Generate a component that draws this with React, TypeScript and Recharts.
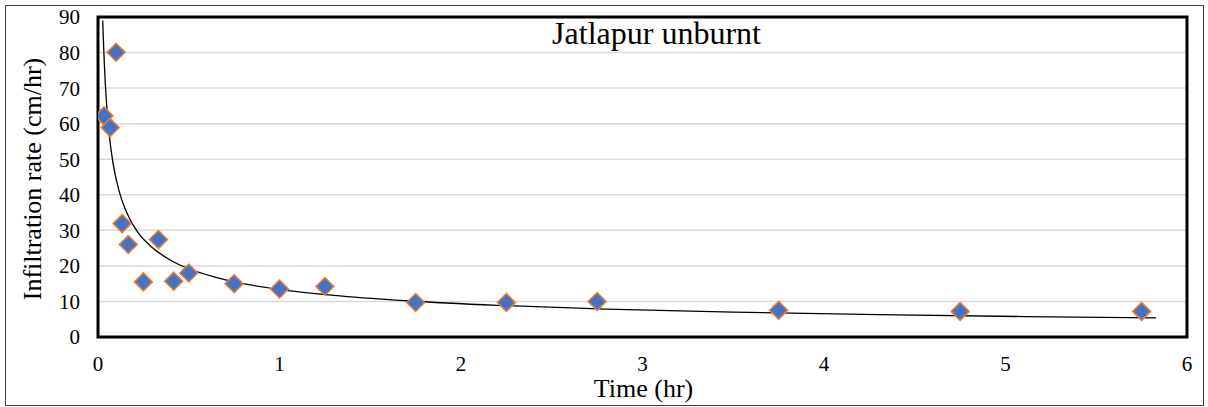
import React from 'react';
import { ComposedChart, XAxis, YAxis, CartesianGrid, Scatter, Line, ReferenceArea, Label } from 'recharts';

const timeHr = [0.033, 0.067, 0.1, 0.133, 0.167, 0.25, 0.333, 0.417, 0.5, 0.75, 1.0, 1.25, 1.75, 2.25, 2.75, 3.75, 4.75, 5.75];
const infiltrationRate = [62.2, 58.9, 80.1, 31.9, 26.0, 15.5, 27.4, 15.7, 18.0, 15.0, 13.5, 14.2, 9.7, 9.7, 10.0, 7.5, 7.2, 7.2];

const trendTime = [0.026, 0.03, 0.04, 0.05, 0.065, 0.08, 0.1, 0.13, 0.17, 0.22, 0.3, 0.4, 0.5, 0.65, 0.8, 1.0, 1.3, 1.7, 2.2, 2.8, 3.5, 4.3, 5.1, 5.83];
const trendRate = [89, 83, 71.5, 63.6, 55.5, 49.8, 44.4, 38.7, 33.7, 29.4, 25.1, 21.6, 19.2, 16.8, 15.0, 13.4, 11.7, 10.2, 8.9, 7.85, 7.0, 6.3, 5.75, 5.36];

const xTicks = [0, 1, 2, 3, 4, 5, 6];
const yTicks = [0, 10, 20, 30, 40, 50, 60, 70, 80, 90];

const chartTitle = 'Jatlapur unburnt';
const xTitle = 'Time (hr)';
const yTitle = 'Infiltration rate (cm/hr)';

const observed = timeHr.map((x, i) => ({ x, y: infiltrationRate[i] }));
const trend = trendTime.map((x, i) => ({ x, y: trendRate[i] }));

const FONT = "'Liberation Serif', Tinos, 'Times New Roman', Times, 'DejaVu Serif', serif";

const Diamond = (props: any) => {
  const { cx, cy } = props;
  if (cx == null || cy == null) return null;
  const r = 9;
  return (
    <polygon
      points={`${cx},${cy - r} ${cx + r},${cy} ${cx},${cy + r} ${cx - r},${cy}`}
      fill="#4472C4"
      stroke="#ED7D31"
      strokeWidth={1.5}
    />
  );
};

const renderYTitle = (props: any) => {
  const vb = props.viewBox || { x: 0, y: 0, width: 0, height: 0 };
  const x = vb.x + 41;
  const y = vb.y + vb.height / 2 + 2;
  return (
    <text x={x} y={y} transform={`rotate(-90 ${x} ${y})`} textAnchor="middle" style={{ fontFamily: FONT, fontSize: 26 }} fill="#000">
      {yTitle}
    </text>
  );
};

const renderXTitle = (props: any) => {
  const vb = props.viewBox || { x: 0, y: 0, width: 0, height: 0 };
  const x = vb.x + vb.width / 2 + 1;
  const y = vb.y + vb.height - 10;
  return (
    <text x={x} y={y} textAnchor="middle" style={{ fontFamily: FONT, fontSize: 26 }} fill="#000">
      {xTitle}
    </text>
  );
};

const renderChartTitle = (props: any) => {
  const vb = props.viewBox || { x: 0, y: 0, width: 0, height: 0 };
  const x = vb.x + vb.width / 2 + 14;
  const y = vb.y + 27;
  return (
    <text x={x} y={y} textAnchor="middle" style={{ fontFamily: FONT, fontSize: 32 }} fill="#000">
      {chartTitle}
    </text>
  );
};

export default function App() {
  return (
    <div style={{ position: 'relative', width: 1208, height: 407, background: '#fff', fontFamily: FONT }}>
      <style>{`body{margin:0;background:#fff} svg text{font-family:${FONT}}`}</style>
      <div style={{ position: 'absolute', left: 5, top: 5, width: 1197, height: 399, border: '1px solid #404040' }} />
      <div style={{ position: 'absolute', left: 0, top: 0 }}>
        <ComposedChart width={1208} height={407} margin={{ top: 17, right: 21, bottom: 0, left: 0 }}>
          <CartesianGrid horizontal={true} vertical={false} stroke="#d9d9d9" strokeWidth={1.5} />
          <XAxis
            type="number"
            dataKey="x"
            domain={[0, 6]}
            ticks={xTicks}
            allowDataOverflow
            height={70}
            axisLine={false}
            tickLine={false}
            tickSize={6}
            tickMargin={13}
            tick={{ fontSize: 21, fill: '#000', fontFamily: FONT }}
          >
            <Label content={renderXTitle} />
          </XAxis>
          <YAxis
            type="number"
            dataKey="y"
            domain={[0, 90]}
            ticks={yTicks}
            allowDataOverflow
            width={98}
            axisLine={false}
            tickLine={false}
            tickSize={6}
            tickMargin={12}
            tick={{ fontSize: 21, fill: '#000', fontFamily: FONT }}
          >
            <Label content={renderYTitle} />
          </YAxis>
          <ReferenceArea x1={0} x2={6} y1={0} y2={90} fill="none" fillOpacity={0} stroke="#000" strokeWidth={3} ifOverflow="visible">
            <Label content={renderChartTitle} />
          </ReferenceArea>
          <Line data={trend} dataKey="y" type="monotone" stroke="#000" strokeWidth={1.3} dot={false} activeDot={false} isAnimationActive={false} />
          <Scatter data={observed} dataKey="y" shape={<Diamond />} isAnimationActive={false} />
        </ComposedChart>
      </div>
    </div>
  );
}
